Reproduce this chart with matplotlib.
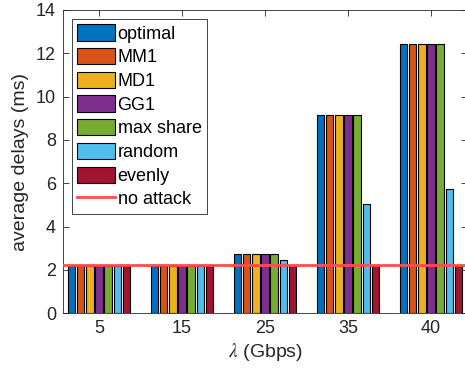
import numpy as np
import matplotlib
matplotlib.use('Agg')
from matplotlib import pyplot as plt

plt.rcParams['font.family'] = ['Liberation Sans', 'DejaVu Sans']
plt.rcParams['mathtext.fontset'] = 'stix'

# data
rates = ['5', '15', '25', '35', '40']
series = ['optimal', 'MM1', 'MD1', 'GG1', 'max share', 'random', 'evenly']
optimal = [2.2, 2.2, 2.72, 9.17, 12.45]
mm1 = [2.2, 2.2, 2.72, 9.17, 12.45]
md1 = [2.2, 2.2, 2.72, 9.17, 12.45]
gg1 = [2.2, 2.2, 2.72, 9.17, 12.45]
max_share = [2.2, 2.2, 2.72, 9.17, 12.45]
random_ = [2.2, 2.2, 2.45, 5.06, 5.75]
evenly = [2.2, 2.2, 2.22, 2.22, 2.2]
no_attack = 2.23

colors = ['#0072BD', '#D95319', '#EDB120', '#7E2F8E', '#77AC30', '#4DBEEE', '#A2142F']
values = [optimal, mm1, md1, gg1, max_share, random_, evenly]

fig = plt.figure(figsize=(4.65, 3.79), dpi=100)
ax = fig.add_axes([63 / 465, 1 - 313.3 / 379, 404 / 465, 303.3 / 379])

x = np.arange(1, len(rates) + 1)
pitch = 0.11
width = 0.09
handles = []
for i, (name, vals, c) in enumerate(zip(series, values, colors)):
    b = ax.bar(x + (i - 3) * pitch, vals, width, color=c, edgecolor='black',
               linewidth=0.8, label=name, zorder=2)
    handles.append(b)

ln = ax.axhline(no_attack, color='#FF4D4D', linewidth=2, label='no attack', zorder=3)
handles.append(ln)

ax.set_xlim(0.566, 5.434)
ax.set_ylim(0, 14)
ax.set_xticks(x)
ax.set_xticklabels(rates)
ax.set_yticks(np.arange(0, 15, 2))
ax.tick_params(direction='in', top=True, right=True, labelsize=13,
               colors='#262626', length=4, width=0.6, pad=5)
for s in ax.spines.values():
    s.set_color('#262626')
    s.set_linewidth(0.6)

ax.set_xlabel(r'$\lambda$ (Gbps)', fontsize=14, color='#262626', labelpad=3)
ax.set_ylabel('average delays (ms)', fontsize=14, color='#262626', labelpad=5)

leg = ax.legend(handles=handles, labels=series + ['no attack'], loc='upper left',
                fontsize=13, handlelength=2.1, handleheight=1.0,
                labelspacing=0.3, handletextpad=0.12, borderaxespad=0.5,
                fancybox=False, framealpha=1, borderpad=0.3)
leg.get_frame().set_edgecolor('#262626')
leg.get_frame().set_linewidth(0.6)

plt.savefig('out.png', dpi=100)
